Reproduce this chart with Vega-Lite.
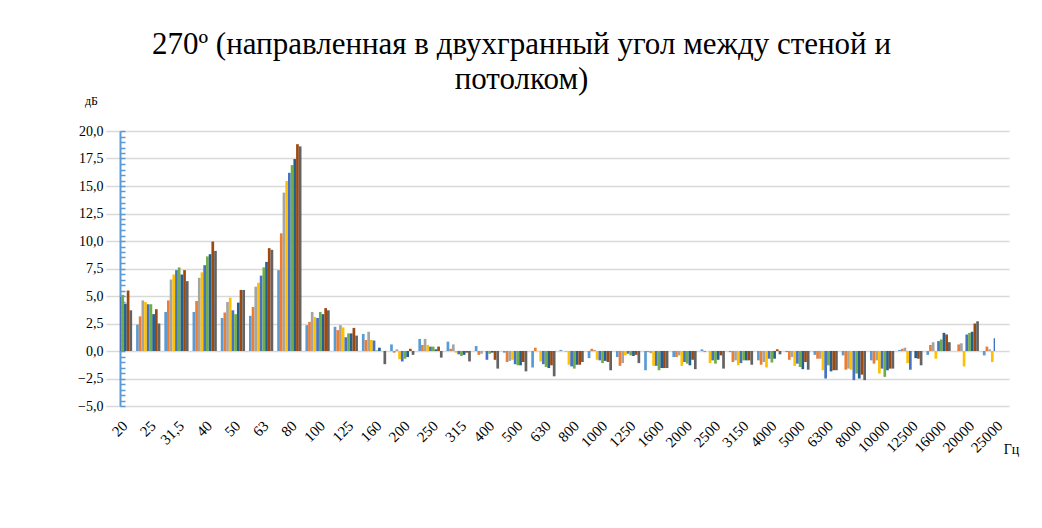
{
  "$schema": "https://vega.github.io/schema/vega-lite/v6.json",
  "width": 875,
  "height": 275,
  "autosize": {"type": "none"},
  "padding": {"left": 120, "top": 131, "right": 47, "bottom": 122},
  "background": "white",
  "title": {
    "text": ["270º (направленная в двухгранный угол между стеной и", "потолком)"],
    "font": "Liberation Serif",
    "fontSize": 31,
    "fontWeight": "normal",
    "color": "black",
    "anchor": "middle",
    "dx": -36,
    "offset": -2,
    "lineHeight": 35
  },
  "config": {"view": {"stroke": null}},
  "data": {
    "values": [
      {"f":"20","s":"1","v":2.6},{"f":"20","s":"2","v":3.1},{"f":"20","s":"3","v":3.9},{"f":"20","s":"4","v":4.4},{"f":"20","s":"5","v":4.9},{"f":"20","s":"6","v":5.1},{"f":"20","s":"7","v":4.3},{"f":"20","s":"8","v":5.5},{"f":"20","s":"9","v":3.7},
      {"f":"25","s":"1","v":2.4},{"f":"25","s":"2","v":3.15},{"f":"25","s":"3","v":4.6},{"f":"25","s":"4","v":4.45},{"f":"25","s":"5","v":4.25},{"f":"25","s":"6","v":4.25},{"f":"25","s":"7","v":3.35},{"f":"25","s":"8","v":3.8},{"f":"25","s":"9","v":2.5},
      {"f":"31,5","s":"1","v":3.55},{"f":"31,5","s":"2","v":4.6},{"f":"31,5","s":"3","v":6.5},{"f":"31,5","s":"4","v":6.95},{"f":"31,5","s":"5","v":7.35},{"f":"31,5","s":"6","v":7.6},{"f":"31,5","s":"7","v":6.95},{"f":"31,5","s":"8","v":7.35},{"f":"31,5","s":"9","v":6.35},
      {"f":"40","s":"1","v":3.55},{"f":"40","s":"2","v":4.55},{"f":"40","s":"3","v":6.65},{"f":"40","s":"4","v":7.15},{"f":"40","s":"5","v":7.8},{"f":"40","s":"6","v":8.6},{"f":"40","s":"7","v":8.8},{"f":"40","s":"8","v":9.95},{"f":"40","s":"9","v":9.1},
      {"f":"50","s":"1","v":3.0},{"f":"50","s":"2","v":3.5},{"f":"50","s":"3","v":4.45},{"f":"50","s":"4","v":4.85},{"f":"50","s":"5","v":3.7},{"f":"50","s":"6","v":3.35},{"f":"50","s":"7","v":4.4},{"f":"50","s":"8","v":5.55},{"f":"50","s":"9","v":5.55},
      {"f":"63","s":"1","v":3.2},{"f":"63","s":"2","v":4.0},{"f":"63","s":"3","v":5.85},{"f":"63","s":"4","v":6.2},{"f":"63","s":"5","v":6.85},{"f":"63","s":"6","v":7.6},{"f":"63","s":"7","v":8.1},{"f":"63","s":"8","v":9.35},{"f":"63","s":"9","v":9.2},
      {"f":"80","s":"1","v":7.35},{"f":"80","s":"2","v":10.7},{"f":"80","s":"3","v":14.4},{"f":"80","s":"4","v":15.45},{"f":"80","s":"5","v":16.2},{"f":"80","s":"6","v":16.9},{"f":"80","s":"7","v":17.45},{"f":"80","s":"8","v":18.8},{"f":"80","s":"9","v":18.6},
      {"f":"100","s":"1","v":2.35},{"f":"100","s":"2","v":2.65},{"f":"100","s":"3","v":3.55},{"f":"100","s":"4","v":3.1},{"f":"100","s":"5","v":3.0},{"f":"100","s":"6","v":3.55},{"f":"100","s":"7","v":3.35},{"f":"100","s":"8","v":3.9},{"f":"100","s":"9","v":3.7},
      {"f":"125","s":"1","v":2.2},{"f":"125","s":"2","v":1.9},{"f":"125","s":"3","v":2.35},{"f":"125","s":"4","v":2.15},{"f":"125","s":"5","v":1.25},{"f":"125","s":"6","v":1.6},{"f":"125","s":"7","v":1.6},{"f":"125","s":"8","v":2.1},{"f":"125","s":"9","v":1.4},
      {"f":"160","s":"1","v":1.55},{"f":"160","s":"2","v":1.0},{"f":"160","s":"3","v":1.75},{"f":"160","s":"4","v":1.0},{"f":"160","s":"5","v":0.95},{"f":"160","s":"6","v":0.05},{"f":"160","s":"7","v":0.3},{"f":"160","s":"8","v":0.0},{"f":"160","s":"9","v":-1.2},
      {"f":"200","s":"1","v":0.6},{"f":"200","s":"2","v":-0.15},{"f":"200","s":"3","v":0.15},{"f":"200","s":"4","v":-0.75},{"f":"200","s":"5","v":-0.95},{"f":"200","s":"6","v":-0.7},{"f":"200","s":"7","v":-0.55},{"f":"200","s":"8","v":0.2},{"f":"200","s":"9","v":-0.35},
      {"f":"250","s":"1","v":1.1},{"f":"250","s":"2","v":0.55},{"f":"250","s":"3","v":1.1},{"f":"250","s":"4","v":0.55},{"f":"250","s":"5","v":0.4},{"f":"250","s":"6","v":0.4},{"f":"250","s":"7","v":0.15},{"f":"250","s":"8","v":0.4},{"f":"250","s":"9","v":-0.6},
      {"f":"315","s":"1","v":0.85},{"f":"315","s":"2","v":0.2},{"f":"315","s":"3","v":0.6},{"f":"315","s":"4","v":-0.15},{"f":"315","s":"5","v":-0.3},{"f":"315","s":"6","v":-0.45},{"f":"315","s":"7","v":-0.35},{"f":"315","s":"8","v":-0.15},{"f":"315","s":"9","v":-0.95},
      {"f":"400","s":"1","v":0.45},{"f":"400","s":"2","v":-0.35},{"f":"400","s":"3","v":-0.25},{"f":"400","s":"4","v":0.0},{"f":"400","s":"5","v":-0.8},{"f":"400","s":"6","v":-0.25},{"f":"400","s":"7","v":-0.15},{"f":"400","s":"8","v":-0.8},{"f":"400","s":"9","v":-1.6},
      {"f":"500","s":"1","v":-0.15},{"f":"500","s":"2","v":-1.0},{"f":"500","s":"3","v":-0.9},{"f":"500","s":"4","v":-0.8},{"f":"500","s":"5","v":-1.2},{"f":"500","s":"6","v":-1.3},{"f":"500","s":"7","v":-1.3},{"f":"500","s":"8","v":-1.0},{"f":"500","s":"9","v":-1.85},
      {"f":"630","s":"1","v":-1.5},{"f":"630","s":"2","v":0.3},{"f":"630","s":"3","v":0.0},{"f":"630","s":"4","v":-0.95},{"f":"630","s":"5","v":-1.2},{"f":"630","s":"6","v":-1.45},{"f":"630","s":"7","v":-1.55},{"f":"630","s":"8","v":-1.3},{"f":"630","s":"9","v":-2.3},
      {"f":"800","s":"1","v":0.1},{"f":"800","s":"2","v":0.0},{"f":"800","s":"3","v":-0.05},{"f":"800","s":"4","v":-1.25},{"f":"800","s":"5","v":-1.4},{"f":"800","s":"6","v":-1.6},{"f":"800","s":"7","v":-1.25},{"f":"800","s":"8","v":-1.25},{"f":"800","s":"9","v":-1.0},
      {"f":"1000","s":"1","v":-0.65},{"f":"1000","s":"2","v":0.2},{"f":"1000","s":"3","v":0.1},{"f":"1000","s":"4","v":-0.8},{"f":"1000","s":"5","v":-0.85},{"f":"1000","s":"6","v":-1.1},{"f":"1000","s":"7","v":-0.9},{"f":"1000","s":"8","v":-1.0},{"f":"1000","s":"9","v":-1.75},
      {"f":"1250","s":"1","v":-0.55},{"f":"1250","s":"2","v":-1.35},{"f":"1250","s":"3","v":-1.1},{"f":"1250","s":"4","v":-0.4},{"f":"1250","s":"5","v":-0.25},{"f":"1250","s":"6","v":-0.4},{"f":"1250","s":"7","v":-0.45},{"f":"1250","s":"8","v":-0.35},{"f":"1250","s":"9","v":-1.1},
      {"f":"1600","s":"1","v":-1.75},{"f":"1600","s":"2","v":-0.1},{"f":"1600","s":"3","v":-0.2},{"f":"1600","s":"4","v":-1.35},{"f":"1600","s":"5","v":-1.35},{"f":"1600","s":"6","v":-1.75},{"f":"1600","s":"7","v":-1.55},{"f":"1600","s":"8","v":-1.55},{"f":"1600","s":"9","v":-1.55},
      {"f":"2000","s":"1","v":-0.55},{"f":"2000","s":"2","v":-0.55},{"f":"2000","s":"3","v":-0.4},{"f":"2000","s":"4","v":-1.35},{"f":"2000","s":"5","v":-1.0},{"f":"2000","s":"6","v":-1.15},{"f":"2000","s":"7","v":-1.3},{"f":"2000","s":"8","v":-0.8},{"f":"2000","s":"9","v":-1.65},
      {"f":"2500","s":"1","v":0.15},{"f":"2500","s":"2","v":-0.1},{"f":"2500","s":"3","v":0.0},{"f":"2500","s":"4","v":-1.1},{"f":"2500","s":"5","v":-0.85},{"f":"2500","s":"6","v":-1.15},{"f":"2500","s":"7","v":-0.8},{"f":"2500","s":"8","v":-0.4},{"f":"2500","s":"9","v":-1.6},
      {"f":"3150","s":"1","v":-0.1},{"f":"3150","s":"2","v":-1.0},{"f":"3150","s":"3","v":-0.85},{"f":"3150","s":"4","v":-1.3},{"f":"3150","s":"5","v":-1.1},{"f":"3150","s":"6","v":-0.85},{"f":"3150","s":"7","v":-0.85},{"f":"3150","s":"8","v":-0.85},{"f":"3150","s":"9","v":-1.25},
      {"f":"4000","s":"1","v":-0.85},{"f":"4000","s":"2","v":-1.25},{"f":"4000","s":"3","v":-1.0},{"f":"4000","s":"4","v":-1.5},{"f":"4000","s":"5","v":-0.7},{"f":"4000","s":"6","v":-1.05},{"f":"4000","s":"7","v":-0.7},{"f":"4000","s":"8","v":0.15},{"f":"4000","s":"9","v":-0.3},
      {"f":"5000","s":"1","v":-0.1},{"f":"5000","s":"2","v":-0.8},{"f":"5000","s":"3","v":-0.55},{"f":"5000","s":"4","v":-1.35},{"f":"5000","s":"5","v":-1.15},{"f":"5000","s":"6","v":-1.45},{"f":"5000","s":"7","v":-1.65},{"f":"5000","s":"8","v":-1.0},{"f":"5000","s":"9","v":-1.7},
      {"f":"6300","s":"1","v":-0.35},{"f":"6300","s":"2","v":-0.7},{"f":"6300","s":"3","v":-0.7},{"f":"6300","s":"4","v":-1.75},{"f":"6300","s":"5","v":-2.5},{"f":"6300","s":"6","v":-1.3},{"f":"6300","s":"7","v":-1.85},{"f":"6300","s":"8","v":-1.75},{"f":"6300","s":"9","v":-1.75},
      {"f":"8000","s":"1","v":-0.4},{"f":"8000","s":"2","v":-1.7},{"f":"8000","s":"3","v":-1.6},{"f":"8000","s":"4","v":-1.7},{"f":"8000","s":"5","v":-2.65},{"f":"8000","s":"6","v":-2.05},{"f":"8000","s":"7","v":-2.5},{"f":"8000","s":"8","v":-2.15},{"f":"8000","s":"9","v":-2.65},
      {"f":"10000","s":"1","v":-0.85},{"f":"10000","s":"2","v":-1.15},{"f":"10000","s":"3","v":-0.85},{"f":"10000","s":"4","v":-2.05},{"f":"10000","s":"5","v":-1.6},{"f":"10000","s":"6","v":-2.35},{"f":"10000","s":"7","v":-1.75},{"f":"10000","s":"8","v":-1.6},{"f":"10000","s":"9","v":-1.6},
      {"f":"12500","s":"1","v":0.1},{"f":"12500","s":"2","v":0.2},{"f":"12500","s":"3","v":0.3},{"f":"12500","s":"4","v":-1.1},{"f":"12500","s":"5","v":-1.7},{"f":"12500","s":"6","v":0.0},{"f":"12500","s":"7","v":-0.65},{"f":"12500","s":"8","v":-0.7},{"f":"12500","s":"9","v":-1.3},
      {"f":"16000","s":"1","v":-0.35},{"f":"16000","s":"2","v":0.55},{"f":"16000","s":"3","v":0.8},{"f":"16000","s":"4","v":-0.7},{"f":"16000","s":"5","v":0.9},{"f":"16000","s":"6","v":1.05},{"f":"16000","s":"7","v":1.65},{"f":"16000","s":"8","v":1.5},{"f":"16000","s":"9","v":0.8},
      {"f":"20000","s":"1","v":0.0},{"f":"20000","s":"2","v":0.6},{"f":"20000","s":"3","v":0.7},{"f":"20000","s":"4","v":-1.4},{"f":"20000","s":"5","v":1.5},{"f":"20000","s":"6","v":1.65},{"f":"20000","s":"7","v":1.75},{"f":"20000","s":"8","v":2.5},{"f":"20000","s":"9","v":2.7},
      {"f":"25000","s":"1","v":-0.4},{"f":"25000","s":"2","v":0.4},{"f":"25000","s":"3","v":0.15},{"f":"25000","s":"4","v":-1.0},{"f":"25000","s":"5","v":1.15},{"f":"25000","s":"6","v":1.3},{"f":"25000","s":"7","v":1.5},{"f":"25000","s":"8","v":2.0},{"f":"25000","s":"9","v":2.2}
    ]
  },
  "mark": {"type": "bar", "clip": true},
  "encoding": {
    "x": {
      "field": "f",
      "type": "nominal",
      "sort": null,
      "scale": {"range": [-14.11, 889.11], "paddingInner": 0.14, "paddingOuter": 0.07},
      "axis": {
        "orient": "bottom",
        "domain": false,
        "ticks": false,
        "grid": false,
        "labelAngle": -45,
        "labelAlign": "right",
        "labelBaseline": "top",
        "labelPadding": 12,
        "labelOverlap": false,
        "labelFont": "Liberation Serif",
        "labelFontSize": 15,
        "labelColor": "black",
        "title": "Гц",
        "titleFont": "Liberation Serif",
        "titleFontSize": 14,
        "titleFontWeight": "normal",
        "titleColor": "black",
        "titleAngle": 0,
        "titleAlign": "center",
        "titleBaseline": "alphabetic",
        "titleX": 891,
        "titleY": 47
      }
    },
    "xOffset": {
      "field": "s",
      "type": "nominal",
      "scale": {"paddingInner": 0, "paddingOuter": 0}
    },
    "y": {
      "field": "v",
      "type": "quantitative",
      "scale": {"domain": [-5, 20], "nice": false, "zero": false},
      "axis": {
        "values": [-5, -4.5, -4, -3.5, -3, -2.5, -2, -1.5, -1, -0.5, 0, 0.5, 1, 1.5, 2, 2.5, 3, 3.5, 4, 4.5, 5, 5.5, 6, 6.5, 7, 7.5, 8, 8.5, 9, 9.5, 10, 10.5, 11, 11.5, 12, 12.5, 13, 13.5, 14, 14.5, 15, 15.5, 16, 16.5, 17, 17.5, 18, 18.5, 19, 19.5, 20],
        "labelExpr": "datum.value % 2.5 == 0 ? replace(format(datum.value, '.1f'), '.', ',') : ''",
        "labelFont": "Liberation Serif",
        "labelFontSize": 14,
        "labelColor": "black",
        "labelPadding": 22,
        "labelOverlap": false,
        "domainColor": "#5B9BD5",
        "domainWidth": 2,
        "tickColor": "#5B9BD5",
        "tickWidth": 1.5,
        "tickSize": -5,
        "grid": true,
        "gridColor": "#D9D9D9",
        "gridWidth": 1.5,
        "gridOpacity": {"condition": {"test": "datum.value % 2.5 != 0", "value": 0}, "value": 1},
        "title": "дБ",
        "titleFont": "Liberation Serif",
        "titleFontSize": 12,
        "titleFontWeight": "normal",
        "titleColor": "black",
        "titleAngle": 0,
        "titleAlign": "center",
        "titleBaseline": "alphabetic",
        "titleX": -29,
        "titleY": -27
      }
    },
    "color": {
      "field": "s",
      "type": "nominal",
      "legend": null,
      "scale": {
        "domain": ["1", "2", "3", "4", "5", "6", "7", "8", "9"],
        "range": ["#5B9BD5", "#ED7D31", "#A5A5A5", "#FFC000", "#4472C4", "#70AD47", "#255E91", "#9E480E", "#636363"]
      }
    }
  }
}
